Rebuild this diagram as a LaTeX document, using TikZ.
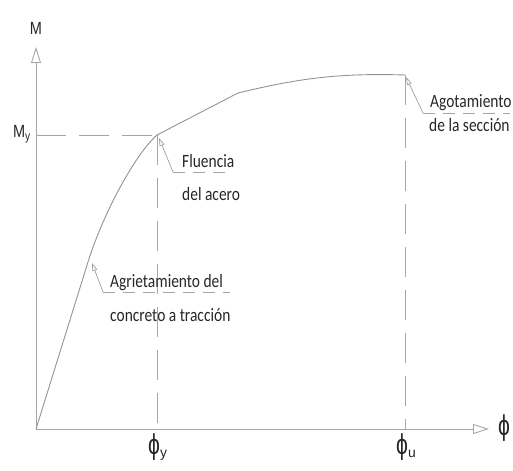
\documentclass[tikz,border=0pt]{standalone}
\usepackage{fontspec}
\setmainfont{Carlito}
\newfontfamily\axfont{Liberation Sans}
\usetikzlibrary{arrows.meta}
\newcommand{\tallt}[1]{\scalebox{0.97}[1.18]{#1}}
\newcommand{\bigphi}{\scalebox{0.85}[1.15]{\fontsize{25}{27}\selectfont ϕ}}
\begin{document}
\begin{tikzpicture}[x=1bp,y=-1bp,
  axisline/.style={draw=gray!70,line width=0.9bp,-{Triangle[open,length=16bp,width=10bp]}},
  curveline/.style={draw=gray!85,line width=0.9bp},
  helpline/.style={draw=gray!70,line width=0.9bp,dash pattern=on 30bp off 13bp},
  leader/.style={draw=gray!75,line width=0.7bp,-{Triangle[open,length=8bp,width=5bp]}},
  underl/.style={draw=gray!70,line width=0.7bp,dash pattern=on 12bp off 8bp},
  lbl/.style={font=\fontsize{16}{18}\selectfont,text=black!85,inner sep=0pt,anchor=base west},
  axlbl/.style={font=\axfont\fontsize{15}{18}\selectfont,text=black!85,inner sep=0pt}]
\useasboundingbox (0,0) rectangle (513,471);
% key points
\coordinate (O) at (36,429);
\coordinate (Mtop) at (36,47);
\coordinate (Pend) at (489,429);
\coordinate (C) at (88,262);
\coordinate (Y) at (157,135);
\coordinate (K) at (238,93);
\coordinate (T) at (405,75);
\coordinate (My0) at (36,135);
\coordinate (Yb) at (157,429);
\coordinate (Tb) at (405,429);
% axes
\draw[axisline] (O) -- (Mtop);
\draw[axisline] (O) -- (Pend);
% helper dashed lines
\draw[helpline] (My0) -- (Y);
\draw[helpline] (Y) -- (Yb);
\draw[helpline] (T) -- (Tb);
% moment-curvature curve
\draw[curveline] (O) -- (C) .. controls (103,214) and (134.5,155) .. (Y) -- (K)
  .. controls (300,78) and (340,73) .. (T);
% axis labels
\node[axlbl] (lM) at (36,28) {\tallt{M}};
\node[axlbl,anchor=east] (lMy) at (31,134) {\tallt{M\textsubscript{y}}};
\node[axlbl] (lphi) at (504,428) {\bigphi};
\node[axlbl,anchor=north west] (lphiy) at (148,434) {\bigphi\textsubscript{\fontsize{14}{14}\selectfont y}};
\node[axlbl,anchor=north west] (lphiu) at (396,434) {\bigphi\textsubscript{\fontsize{14}{14}\selectfont u}};
% annotation: Fluencia del acero
\coordinate (fk) at (173,172);
\coordinate (fe) at (232,172);
\coordinate (ft) at (159,138);
\draw[leader] (fk) -- (ft);
\draw[underl] (fk) -- (fe);
\node[lbl] (f1) at (182,168) {\tallt{Fluencia}};
\node[lbl] (f2) at (182,201) {\tallt{del acero}};
% annotation: Agotamiento de la seccion
\coordinate (ak) at (423,113);
\coordinate (ae) at (510,113);
\coordinate (at) at (406,77);
\draw[leader] (ak) -- (at);
\draw[underl] (ak) -- (ae);
\node[lbl] (a1) at (430,108) {\tallt{Agotamiento}};
\node[lbl] (a2) at (429,132) {\tallt{de la sección}};
% annotation: Agrietamiento del concreto a traccion
\coordinate (gk) at (103,292);
\coordinate (ge) at (230,292);
\coordinate (gt) at (92,263);
\draw[leader] (gk) -- (gt);
\draw[underl] (gk) -- (ge);
\node[lbl] (g1) at (110,287) {\tallt{Agrietamiento del}};
\node[lbl] (g2) at (110,321) {\tallt{concreto a tracción}};
\end{tikzpicture}
\end{document}
